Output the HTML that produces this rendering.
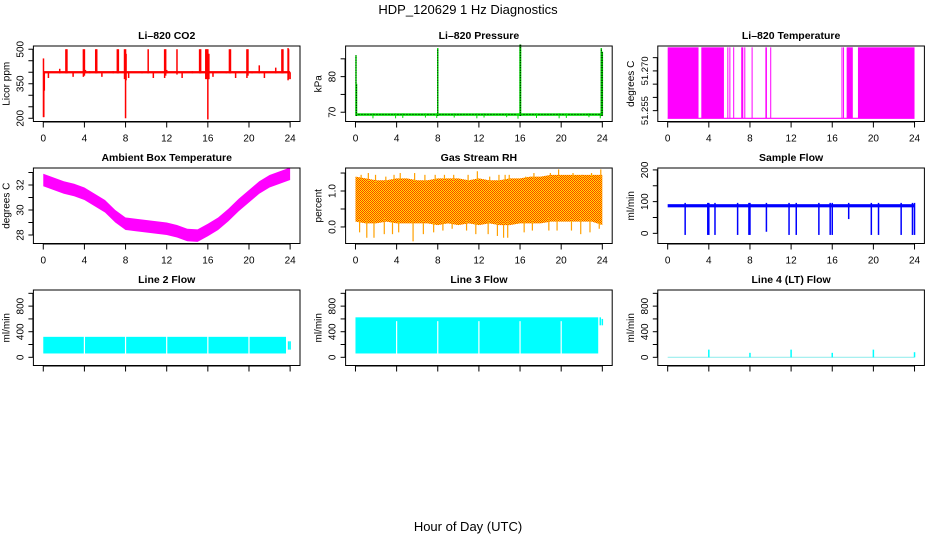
<!DOCTYPE html>
<html><head><meta charset="utf-8">
<style>
html,body{margin:0;padding:0;background:#fff;}
svg{display:block;font-family:"Liberation Sans",Arial,sans-serif;}
</style></head>
<body>
<svg id="chart" width="936" height="540" viewBox="0 0 936 540">
<defs>
<pattern id="rhpat" width="2" height="2" patternUnits="userSpaceOnUse">
<rect width="2" height="2" fill="#ffe600"/>
<rect width="1" height="1" fill="#ff3a00"/>
<rect x="1" y="1" width="1" height="1" fill="#ff3a00"/>
</pattern>
</defs>
<text x="468" y="14" text-anchor="middle" font-size="13">HDP_120629  1 Hz Diagnostics</text>
<text x="468" y="531" text-anchor="middle" font-size="13">Hour of Day (UTC)</text>
</svg>
<script>
// ---- data ----
const xTicks = [0,4,8,12,16,20,24];
const co2Base = [395, 405];
const co2SpikeHours = [0.02,0.05,0.1,0.5,1.6,2.2,2.3,2.9,3.9,4.0,4.1,4.5,5.1,5.2,5.7,6.8,7.2,7.3,7.9,8.0,8.05,8.3,9.6,10.2,10.7,11.8,11.9,12.0,13.0,13.5,14.5,15.2,15.3,15.8,15.9,16.0,16.05,16.1,16.5,17.8,18.1,18.2,18.7,19.8,19.9,20.3,21.0,21.5,22.6,23.2,23.3,23.8,23.85,24.0];
const co2SpikeHi = [460,400,400,400,415,500,500,400,500,500,410,405,500,500,400,405,500,500,500,500,480,400,400,500,400,500,500,410,500,400,405,500,500,500,500,500,480,480,400,400,500,500,400,500,500,400,430,400,420,500,500,505,500,400];
const co2SpikeLo = [205,205,320,375,395,395,395,380,380,385,395,395,395,395,380,395,395,395,370,200,365,375,395,395,375,375,385,395,390,375,395,395,395,370,370,195,370,370,380,395,395,395,375,375,385,395,395,375,395,395,395,365,370,370];

const presBaseLo = 69.0, presBaseHi = 69.7;
const presSpikeHours = [0.05,0.1,8.0,16.0,16.05,23.9,24.0];
const presSpikeHi = [86,78,88,89,89,88,87];
const presDipHours = [1.7,3.9,4.6,6.8,7.9,9.6,11.8,12.5,14.7,15.8,17.6,19.8,20.5,22.7,23.8];
const presDipLo = [68.3,68.3,68.4,68.5,68.4,68.5,68.3,68.5,68.6,68.2,68.4,68.3,68.4,68.6,68.3];

const tempHiVal = 51.2789, tempLoVal = 51.2521;
const tempBlockStart = [0,3.27,5.8,6.0,6.37,7.15,7.45,8.16,9.5,9.97,16.9,17.05,17.4,18.5];
const tempBlockEnd =   [3.0,5.47,5.88,6.08,6.43,7.35,7.52,8.25,9.65,10.03,16.96,17.11,18.0,24.0];

const ambHours = [0,1,2,3,4,5,6,7,8,9,10,11,12,13,14,15,16,17,18,19,20,21,22,23,24];
const ambCenter = [32.4,32.1,31.8,31.6,31.3,30.8,30.3,29.5,28.9,28.8,28.7,28.6,28.5,28.3,28.0,27.95,28.4,28.9,29.6,30.4,31.1,31.8,32.3,32.6,32.9];
const ambHalf = 0.5;

const rhHours = [0,1,2,3,4,5,6,7,8,9,10,11,12,13,14,15,16,17,18,19,20,21,22,23,24];
const rhHi = [1.4,1.35,1.3,1.3,1.35,1.35,1.3,1.3,1.35,1.35,1.35,1.3,1.35,1.3,1.3,1.35,1.35,1.4,1.4,1.45,1.45,1.45,1.45,1.45,1.45];
const rhLo = [0.15,0.1,0.1,0.15,0.1,0.1,0.1,0.1,0.05,0.1,0.05,0.1,0.05,0.1,0.05,0.05,0.1,0.1,0.1,0.15,0.15,0.15,0.15,0.15,0.05];
const rhSpikeHours = [0.4,1.1,1.8,2.8,3.6,4.2,5.6,6.6,7.6,8.5,9.4,10.8,11.7,12.9,13.8,14.4,14.8,16.4,17.2,18.8,19.6,21.0,21.9,22.8,23.7];
const rhSpikeLo = [-0.15,-0.3,-0.3,-0.2,-0.2,-0.15,-0.4,-0.2,-0.15,-0.1,-0.05,-0.1,-0.2,-0.2,-0.25,-0.3,-0.3,-0.15,-0.1,-0.1,-0.1,-0.1,-0.2,-0.15,-0.05];
const rhSpikeHi = [1.45,1.5,1.45,1.4,1.45,1.5,1.5,1.45,1.45,1.45,1.45,1.45,1.55,1.4,1.45,1.45,1.45,1.4,1.5,1.5,1.6,1.5,1.45,1.5,1.6];

const sfBaseLo = 82, sfBaseHi = 92;
const sfDropHours = [1.7,3.9,4.0,4.6,6.8,7.9,8.0,9.6,11.8,12.5,14.7,15.8,16.0,17.6,19.8,20.5,22.7,23.8,24.0];
const sfDropLo = [-5,-5,-5,-5,-5,-5,-5,5,-5,-5,-5,-5,-5,45,-5,-5,-5,-5,-5];

const flowGapHours = [4,8,12,16,20];
const l2Lo = 60, l2Hi = 320, l2End = 23.6;
const l2TailHours = [23.85,24.0], l2TailLo = [120,120], l2TailHi = [250,250];
const l3Lo = 60, l3Hi = 625, l3End = 23.6;
const l3TailHours = [23.8,24.0], l3TailLo = [500,500], l3TailHi = [625,600];
const l4SpikeHours = [4,8,12,16,20,24];
const l4SpikeHi = [120,70,120,70,120,80];

// ---- layout ----
const svg = document.getElementById('chart');
const NS = 'http://www.w3.org/2000/svg';
function mk(tag, attrs, parent){
  const e = document.createElementNS(NS, tag);
  for (const k in attrs) e.setAttribute(k, attrs[k]);
  (parent||svg).appendChild(e);
  return e;
}
const PW = 266.6, PH = 75.5;
function panel(col,row,ylim,yticks,ylabels,title,ylab,key,yfs){
  const L = 33.4 + col*312.2, T = 46 + row*122, B = T+PH, R = L+PW;
  const g = mk('g',{});
  
  
  const sx = h => L + (h+0.96)/25.92*PW;
  const sy = v => B - (v-ylim[0])/(ylim[1]-ylim[0])*PH;
  const marks = mk('g',{}, g);
  
  
  const t = mk('text',{x:(L+R)/2,y:T-7,'text-anchor':'middle','font-size':10.5,'font-weight':'bold'},g);
  t.textContent = title;
  
  
  const xa = mk('g',{},g);
  
  
  mk('line',{x1:sx(0),x2:sx(24),y1:B+0.5,y2:B+0.5,stroke:'#000'},xa);
  xTicks.forEach(h=>{
    mk('line',{x1:sx(h),x2:sx(h),y1:B,y2:B+6,stroke:'#000'},xa);
    if(row<2){
      const tl = mk('text',{x:sx(h),y:B+20,'text-anchor':'middle','font-size':10},xa);
      tl.textContent = h;
      
      
    }
  });
  const ya = mk('g',{},g);
  
  
  mk('line',{x1:L-0.5,x2:L-0.5,y1:sy(yticks[0]),y2:sy(yticks[yticks.length-1]),stroke:'#000'},ya);
  yticks.forEach(v=>mk('line',{x1:L-5,x2:L,y1:sy(v),y2:sy(v),stroke:'#000'},ya));
  ylabels.forEach(v=>{
    const y = sy(parseFloat(v));
    const tl = mk('text',{x:L-10,y:y,'text-anchor':'middle','font-size':yfs||10,transform:`rotate(-90 ${L-10} ${y})`},ya);
    tl.textContent = v;
    
    
  });
  const yl = mk('text',{x:L-24,y:(T+B)/2,'text-anchor':'middle','font-size':10,transform:`rotate(-90 ${L-24} ${(T+B)/2})`},g);
  yl.textContent = ylab;
  
  
  mk('rect',{x:L,y:T,width:PW,height:PH,fill:'none',stroke:'#000'},g);
  return {sx,sy,marks};
}
function vline(p,h,v1,v2,color,w,name){
  const e = mk('line',{x1:p.sx(h),x2:p.sx(h),y1:p.sy(v1),y2:p.sy(v2),stroke:color,'stroke-width':w},p.marks);
  
  
  return e;
}
function band(p,h1,h2,lo,hi,fill,name){
  const e = mk('rect',{x:p.sx(h1),y:p.sy(hi),width:Math.max(1,p.sx(h2)-p.sx(h1)),height:p.sy(lo)-p.sy(hi),fill:fill},p.marks);
  
  
  return e;
}
function areaBand(p,xs,lo,hi,fill,name){
  let pts = xs.map((h,i)=>p.sx(h)+','+p.sy(hi[i]));
  pts = pts.concat(xs.slice().reverse().map((h,j)=>{const i=xs.length-1-j;return p.sx(h)+','+p.sy(lo[i]);}));
  const e = mk('polygon',{points:pts.join(' '),fill:fill},p.marks);
  
  
}

// CO2
let p = panel(0,0,[186,514],[200,250,300,350,400,450,500],['200','350','500'],'Li\u2013820 CO2','Licor ppm','co2');
band(p,0,24,co2Base[0],co2Base[1],'#ff0000','co2-baseline');
co2SpikeHours.forEach((h,i)=>vline(p,h,co2SpikeLo[i],co2SpikeHi[i],'#ff0000',1.5,'co2-spike'));

// Pressure
p = panel(1,0,[67.4,88.6],[70,75,80,85],['70','80'],'Li\u2013820 Pressure','kPa','pressure');
band(p,0,24,presBaseLo,presBaseHi,'#00dd00','pressure-baseline');
mk('line',{x1:p.sx(0),x2:p.sx(24),y1:p.sy(69.4),y2:p.sy(69.4),stroke:'#000','stroke-dasharray':'1,2'},p.marks);
presDipHours.forEach((h,i)=>vline(p,h,presDipLo[i],presBaseHi,'#00dd00',1,'pressure-dip'));
presSpikeHours.forEach((h,i)=>{
  vline(p,h,presBaseLo,presSpikeHi[i],'#00dd00',1.5,'pressure-spike');
  const d = vline(p,h,presBaseLo,presSpikeHi[i],'#000',1,'pressure-spike-dotted');
  d.setAttribute('stroke-dasharray','1,1.5');
});

// Li-820 temperature
p = panel(2,0,[51.2509,51.2794],[51.255,51.260,51.265,51.270,51.275],['51.255','51.270'],'Li\u2013820 Temperature','degrees C','licor-temp',9.5);
const tl0 = mk('line',{x1:p.sx(0),x2:p.sx(24),y1:p.sy(tempLoVal),y2:p.sy(tempLoVal),stroke:'#ff00ff','stroke-width':1.2},p.marks);


tempBlockStart.forEach((s,i)=>band(p,s,tempBlockEnd[i],tempLoVal,tempHiVal,'#ff00ff','licor-temp-block'));

// Ambient
p = panel(0,1,[27.32,33.36],[28,29,30,31,32,33],['28','30','32'],'Ambient Box Temperature','degrees C','ambient-temp');
areaBand(p,ambHours,ambCenter.map(v=>v-ambHalf),ambCenter.map(v=>v+ambHalf),'#ff00ff','ambient-temp-band');

// RH
p = panel(1,1,[-0.46,1.64],[0,0.5,1,1.5],['0.0','1.0'],'Gas Stream RH','percent','rh');
areaBand(p,rhHours,rhLo,rhHi,'url(#rhpat)','rh-band');
rhSpikeHours.forEach((h,i)=>{
  vline(p,h,rhSpikeLo[i],rhLo[i]+0.1,'#ffa000',1.2,'rh-spike-low');
  vline(p,h+0.15,rhHi[i]-0.1,rhSpikeHi[i],'#ffa000',1.2,'rh-spike-high');
});

// Sample flow
p = panel(2,1,[-32,206],[0,50,100,150,200],['0','100','200'],'Sample Flow','ml/min','sample-flow');
band(p,0,24,sfBaseLo,sfBaseHi,'#0000ff','sample-flow-band');
sfDropHours.forEach((h,i)=>vline(p,h,sfDropLo[i],sfBaseHi+4,'#0000ff',1.5,'sample-flow-drop'));

// Line 2
const flowTicks = [0,200,400,600,800,1000], flowLabels = ['0','400','800'];
p = panel(0,2,[-128,1052],flowTicks,flowLabels,'Line 2 Flow','ml/min','line2-flow');
band(p,0,l2End,l2Lo,l2Hi,'#00ffff','line2-flow-band');
l2TailHours.forEach((h,i)=>vline(p,h,l2TailLo[i],l2TailHi[i],'#00ffff',1.5,'line2-flow-tail'));
flowGapHours.forEach(h=>vline(p,h,l2Lo-5,l2Hi+5,'#ffffff',1.2,'line2-flow-gap'));

// Line 3
p = panel(1,2,[-128,1052],flowTicks,flowLabels,'Line 3 Flow','ml/min','line3-flow');
band(p,0,l3End,l3Lo,l3Hi,'#00ffff','line3-flow-band');
l3TailHours.forEach((h,i)=>vline(p,h,l3TailLo[i],l3TailHi[i],'#00ffff',1.5,'line3-flow-tail'));
flowGapHours.forEach(h=>vline(p,h,l3Lo-5,l3Hi-60,'#ffffff',1.2,'line3-flow-gap'));

// Line 4
p = panel(2,2,[-128,1052],flowTicks,flowLabels,'Line 4 (LT) Flow','ml/min','line4-flow');
const l4 = mk('line',{x1:p.sx(0),x2:p.sx(24),y1:p.sy(0),y2:p.sy(0),stroke:'#9ee',"stroke-width":1.2},p.marks);


l4SpikeHours.forEach((h,i)=>vline(p,h,0,l4SpikeHi[i],'#00ffff',1.5,'line4-flow-spike'));
</script>
</body></html>
